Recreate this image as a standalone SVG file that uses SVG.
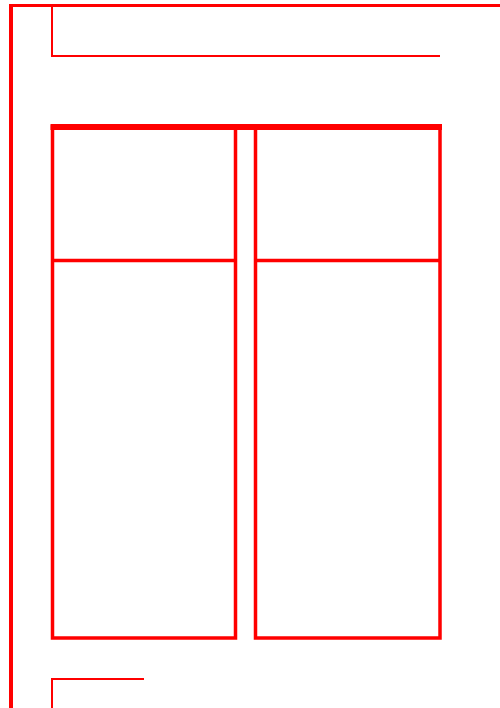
<svg xmlns="http://www.w3.org/2000/svg" width="500" height="708" viewBox="0 0 500 708">
<style>
.l{fill:none;stroke:#ff0000;stroke-linecap:square}
.thin{stroke-width:2}
.mid{stroke-width:3.5}
</style>
<rect width="500" height="708" fill="#ffffff"/>
<g id="frame">
<path class="l" d="M11,708 V5.5 H500" style="stroke-width:0"/>
<line class="l" x1="11" y1="5.5" x2="11" y2="708" stroke-width="4" style="stroke-linecap:butt"/>
<line class="l" x1="9" y1="5.5" x2="500" y2="5.5" stroke-width="3" style="stroke-linecap:butt"/>
<path class="l thin" d="M52,7 V56 H440" style="stroke-linecap:butt"/>
<path class="l thin" d="M52,708 V679 H144" style="stroke-linecap:butt"/>
</g>
<g id="panel-left">
<rect class="l mid" x="52.5" y="127" width="183" height="511" style="stroke-linecap:butt"/>
<line class="l mid" x1="52.5" y1="260.5" x2="235.5" y2="260.5" style="stroke-linecap:butt"/>
</g>
<g id="panel-right">
<rect class="l mid" x="255.5" y="127" width="184.5" height="511" style="stroke-linecap:butt"/>
<line class="l mid" x1="255.5" y1="260.5" x2="440" y2="260.5" style="stroke-linecap:butt"/>
</g>
<g id="top-bar">
<line class="l" x1="50.5" y1="127" x2="442" y2="127" stroke-width="6" style="stroke-linecap:butt"/>
</g>
</svg>
